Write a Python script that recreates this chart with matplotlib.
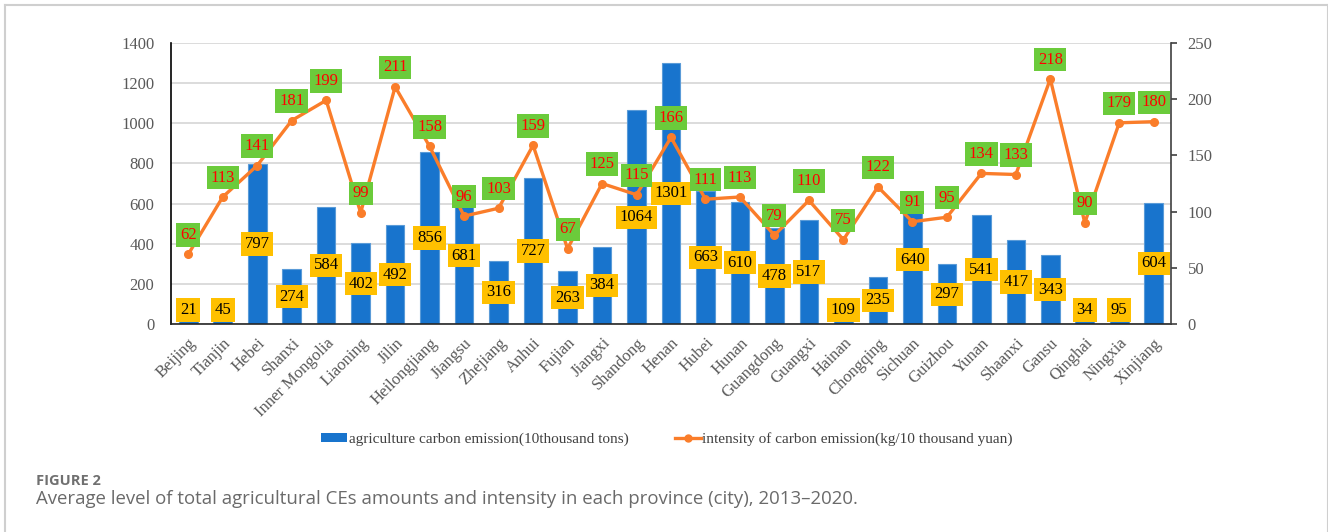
import matplotlib
matplotlib.use("Agg")
import matplotlib.pyplot as plt
from matplotlib.lines import Line2D
from matplotlib.patches import Patch
import numpy as np

provinces = ["Beijing", "Tianjin", "Hebei", "Shanxi", "Inner Mongolia", "Liaoning", "Jilin",
             "Heilongjiang", "Jiangsu", "Zhejiang", "Anhui", "Fujian", "Jiangxi", "Shandong",
             "Henan", "Hubei", "Hunan", "Guangdong", "Guangxi", "Hainan", "Chongqing", "Sichuan",
             "Guizhou", "Yunan", "Shaanxi", "Gansu", "Qinghai", "Ningxia", "Xinjiang"]
emission = [21, 45, 797, 274, 584, 402, 492, 856, 681, 316, 727, 263, 384, 1064, 1301, 663,
            610, 478, 517, 109, 235, 640, 297, 541, 417, 343, 34, 95, 604]
intensity = [62, 113, 141, 181, 199, 99, 211, 158, 96, 103, 159, 67, 125, 115, 166, 111, 113,
             79, 110, 75, 122, 91, 95, 134, 133, 218, 90, 179, 180]
left_ticks = [0, 200, 400, 600, 800, 1000, 1200, 1400]
right_ticks = [0, 50, 100, 150, 200, 250]
bar_label = "agriculture carbon emission(10thousand tons)"
line_label = "intensity of carbon emission(kg/10 thousand yuan)"
caption_head = "FIGURE 2"
caption_text = "Average level of total agricultural CEs amounts and intensity in each province (city), 2013\u20132020."

W, H = 1328, 532
fig = plt.figure(figsize=(W / 100, H / 100), dpi=100)

serif = "Liberation Serif"
tick_gray = "#595959"
bar_color = "#1874CD"
line_color = "#FA7D2A"
green = "#6BCB3B"
yellow = "#FFC000"

ax = fig.add_axes([171 / W, 1 - 324 / H, 1000 / W, 281 / H])
ax2 = ax.twinx()

x = np.arange(len(provinces))
ax.bar(x, emission, width=0.54, color=bar_color, edgecolor="#5A9BD8", linewidth=0.8, zorder=2)
ax.set_xlim(-0.5, len(provinces) - 0.5)
ax.set_ylim(0, 1400)
ax.set_yticks(left_ticks)
ax.yaxis.grid(True, color="#d9d9d9", linewidth=1.3, zorder=0)
ax.set_axisbelow(True)
ax.tick_params(axis="y", length=0, pad=12, labelsize=12, labelcolor=tick_gray)
ax.set_xticks(x)
ax.set_xticklabels(provinces, rotation=45, ha="right", rotation_mode="anchor",
                   fontsize=12, color=tick_gray, fontfamily=serif)
ax.tick_params(axis="x", length=0, pad=8)
for lab in ax.get_yticklabels():
    lab.set_fontfamily(serif)
for s in ["top", "right"]:
    ax.spines[s].set_visible(False)
ax.spines["left"].set_color("black")
ax.spines["left"].set_linewidth(1.2)
ax.spines["bottom"].set_color("#262626")
ax.spines["bottom"].set_linewidth(1.2)

ax2.plot(x, intensity, color=line_color, linewidth=2.4, marker="o", markersize=5.5, zorder=3)
ax2.set_ylim(0, 250)
ax2.set_yticks(right_ticks)
ax2.tick_params(axis="y", length=4, width=1.2, color="#404040", pad=8, labelsize=12,
                labelcolor=tick_gray)
for lab in ax2.get_yticklabels():
    lab.set_fontfamily(serif)
for s in ["top", "left", "bottom"]:
    ax2.spines[s].set_visible(False)
ax2.spines["right"].set_color("#404040")
ax2.spines["right"].set_linewidth(1.2)
ax2.set_zorder(ax.get_zorder() + 1)
ax2.patch.set_visible(False)

# bar value labels (centered in bars, kept inside plot area)
for xi, v in zip(x, emission):
    ax2.text(xi, max(v / 2, 70) * 250 / 1400, str(v), ha="center", va="center", fontsize=12,
             fontfamily=serif, color="black", zorder=5,
             bbox=dict(boxstyle="square,pad=0.22", facecolor=yellow, edgecolor="none"))

# line value labels above points
for xi, v in zip(x, intensity):
    ax2.annotate(str(v), (xi, v), xytext=(0, 14), textcoords="offset points", ha="center",
                 va="center", fontsize=12, fontfamily=serif, color="#FF0000", zorder=6,
                 bbox=dict(boxstyle="square,pad=0.22", facecolor=green, edgecolor="none"))

handles = [Patch(facecolor=bar_color, edgecolor="none"),
           Line2D([0], [0], color=line_color, linewidth=2.4, marker="o", markersize=5)]
fig.legend(handles, [bar_label, line_label], loc="center", bbox_to_anchor=(667 / W, 1 - 439 / H),
           ncol=2, frameon=False, prop={"family": serif, "size": 11}, handlelength=1.7,
           handleheight=0.5, handletextpad=0.1, columnspacing=3.0, labelcolor="#404040")

fig.text(36 / W, 1 - 481 / H, caption_head, fontsize=10.5, fontweight="bold", color="#707070",
         fontfamily="Open Sans", va="center", ha="left")
fig.text(36 / W, 1 - 499 / H, caption_text, fontsize=13.4, color="#6a6a6a",
         fontfamily="Open Sans", va="center", ha="left")

frame_c = "#cfcfcf"
fig.add_artist(Line2D([4.5 / W, 4.5 / W], [0, 1 - 4.5 / H], color=frame_c, linewidth=1.5))
fig.add_artist(Line2D([4.5 / W, 1327.5 / W], [1 - 4.5 / H, 1 - 4.5 / H], color=frame_c, linewidth=1.5))
fig.add_artist(Line2D([1327.5 / W, 1327.5 / W], [0, 1 - 4.5 / H], color=frame_c, linewidth=1.5))

fig.savefig("out.png", dpi=100)
